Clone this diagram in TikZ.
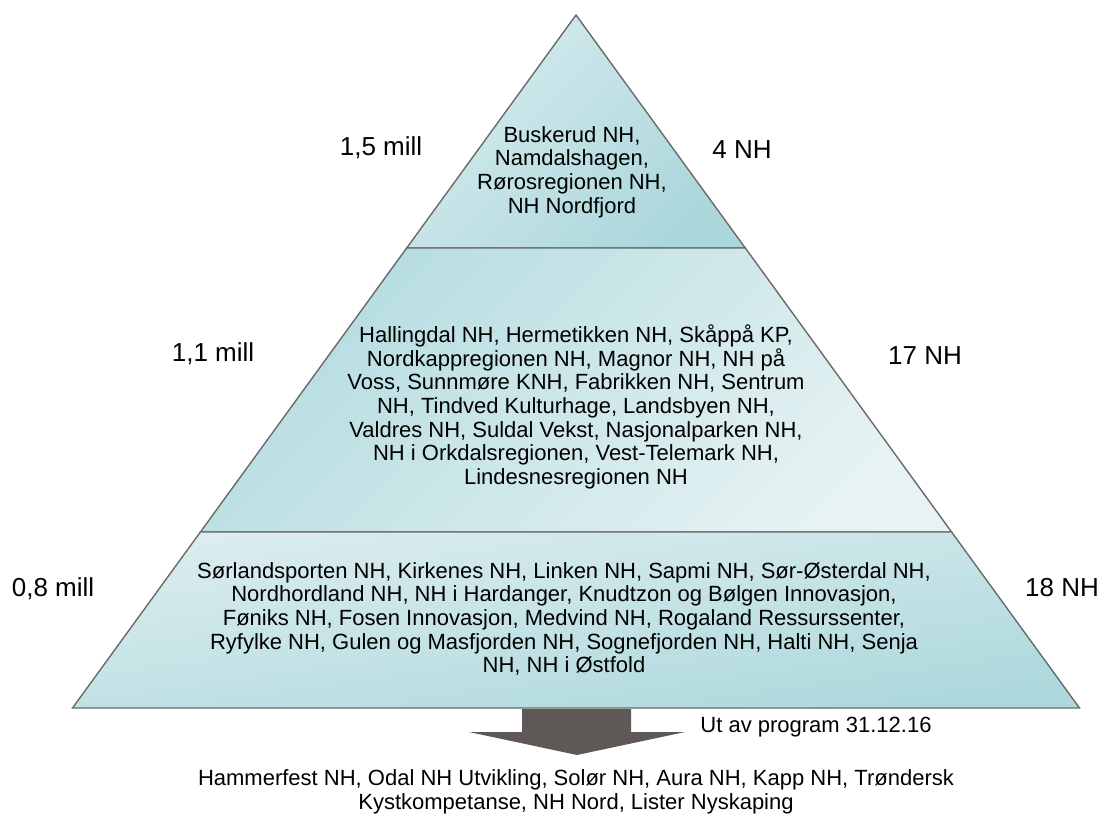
\documentclass[tikz,border=0pt]{standalone}
\usepackage{fontspec}
\setmainfont{Liberation Sans}
\definecolor{edgegray}{HTML}{6A6A6A}
\definecolor{arrowgray}{HTML}{5E5956}
\definecolor{tealA}{HTML}{D6EBEE}
\definecolor{tealB}{HTML}{ABD7DB}
\definecolor{tealC}{HTML}{B4DCE0}
\definecolor{tealD}{HTML}{E6F2F3}
\definecolor{tealE}{HTML}{DCEDEF}
\definecolor{tealF}{HTML}{ACD8DC}
\begin{document}
\begin{tikzpicture}[x=1pt,y=1pt]
\tikzset{
  pyr/.style={draw=edgegray, line width=1.4pt, line join=miter},
  txt/.style={font=\fontsize{22}{23.7}\selectfont, align=center, inner sep=0pt, text=black},
  side/.style={font=\fontsize{26}{28}\selectfont, inner sep=0pt, text=black},
  note/.style={font=\fontsize{22}{24}\selectfont, inner sep=0pt, text=black},
}
\useasboundingbox (0,0) rectangle (1101,-814);
% pyramid corner points
\coordinate (apex) at (576,-15);
\coordinate (l1) at (406.7,-248);
\coordinate (r1) at (745.3,-248);
\coordinate (l2) at (200.4,-532);
\coordinate (r2) at (951.6,-532);
\coordinate (l3) at (72.5,-708);
\coordinate (r3) at (1079.5,-708);
% arrow
\fill[arrowgray] (522,-709) -- (631,-709) -- (631,-732) -- (685,-732) -- (577,-755) -- (469,-732) -- (522,-732) -- cycle;
% sections
\shade[top color=tealA, bottom color=tealB, shading angle=45] (apex) -- (r1) -- (l1) -- cycle;
\draw[pyr] (apex) -- (r1) -- (l1) -- cycle;
\shade[top color=tealC, bottom color=tealD, shading angle=45] (l1) -- (r1) -- (r2) -- (l2) -- cycle;
\draw[pyr] (l1) -- (r1) -- (r2) -- (l2) -- cycle;
\shade[top color=tealE, bottom color=tealF, shading angle=8] (l2) -- (r2) -- (r3) -- (l3) -- cycle;
\draw[pyr] (l2) -- (r2) -- (r3) -- (l3) -- cycle;
% texts
\node[txt] (t1) at (572,-172) {Buskerud NH,\\Namdalshagen,\\Rørosregionen NH,\\NH Nordfjord};
\node[txt] (t2) at (576,-407) {Hallingdal NH, Hermetikken NH, Skåppå KP,\\Nordkappregionen NH, Magnor NH, NH på\\Voss, Sunnmøre KNH, Fabrikken NH, Sentrum\\NH, Tindved Kulturhage, Landsbyen NH,\\Valdres NH, Suldal Vekst, Nasjonalparken NH,\\NH i Orkdalsregionen, Vest-Telemark NH,\\Lindesnesregionen NH};
\node[txt] (t3) at (564,-619) {Sørlandsporten NH, Kirkenes NH, Linken NH, Sapmi NH, Sør-Østerdal NH,\\Nordhordland NH, NH i Hardanger, Knudtzon og Bølgen Innovasjon,\\Føniks NH, Fosen Innovasjon, Medvind NH, Rogaland Ressurssenter,\\Ryfylke NH, Gulen og Masfjorden NH, Sognefjorden NH, Halti NH, Senja\\NH, NH i Østfold};
\node[side] (p1) at (381,-148) {1,5 mill};
\node[side] (n1) at (742,-150) {4 NH};
\node[side] (p2) at (213,-354) {1,1 mill};
\node[side] (n2) at (925,-356) {17 NH};
\node[side] (p3) at (53,-589) {0,8 mill};
\node[side] (n3) at (1062,-588) {18 NH};
\node[note] (ut) at (816,-727) {Ut av program 31.12.16};
\node[txt] (out) at (576,-792) {Hammerfest NH, Odal NH Utvikling, Solør NH, Aura NH, Kapp NH, Trøndersk\\Kystkompetanse, NH Nord, Lister Nyskaping};
\end{tikzpicture}
\end{document}
